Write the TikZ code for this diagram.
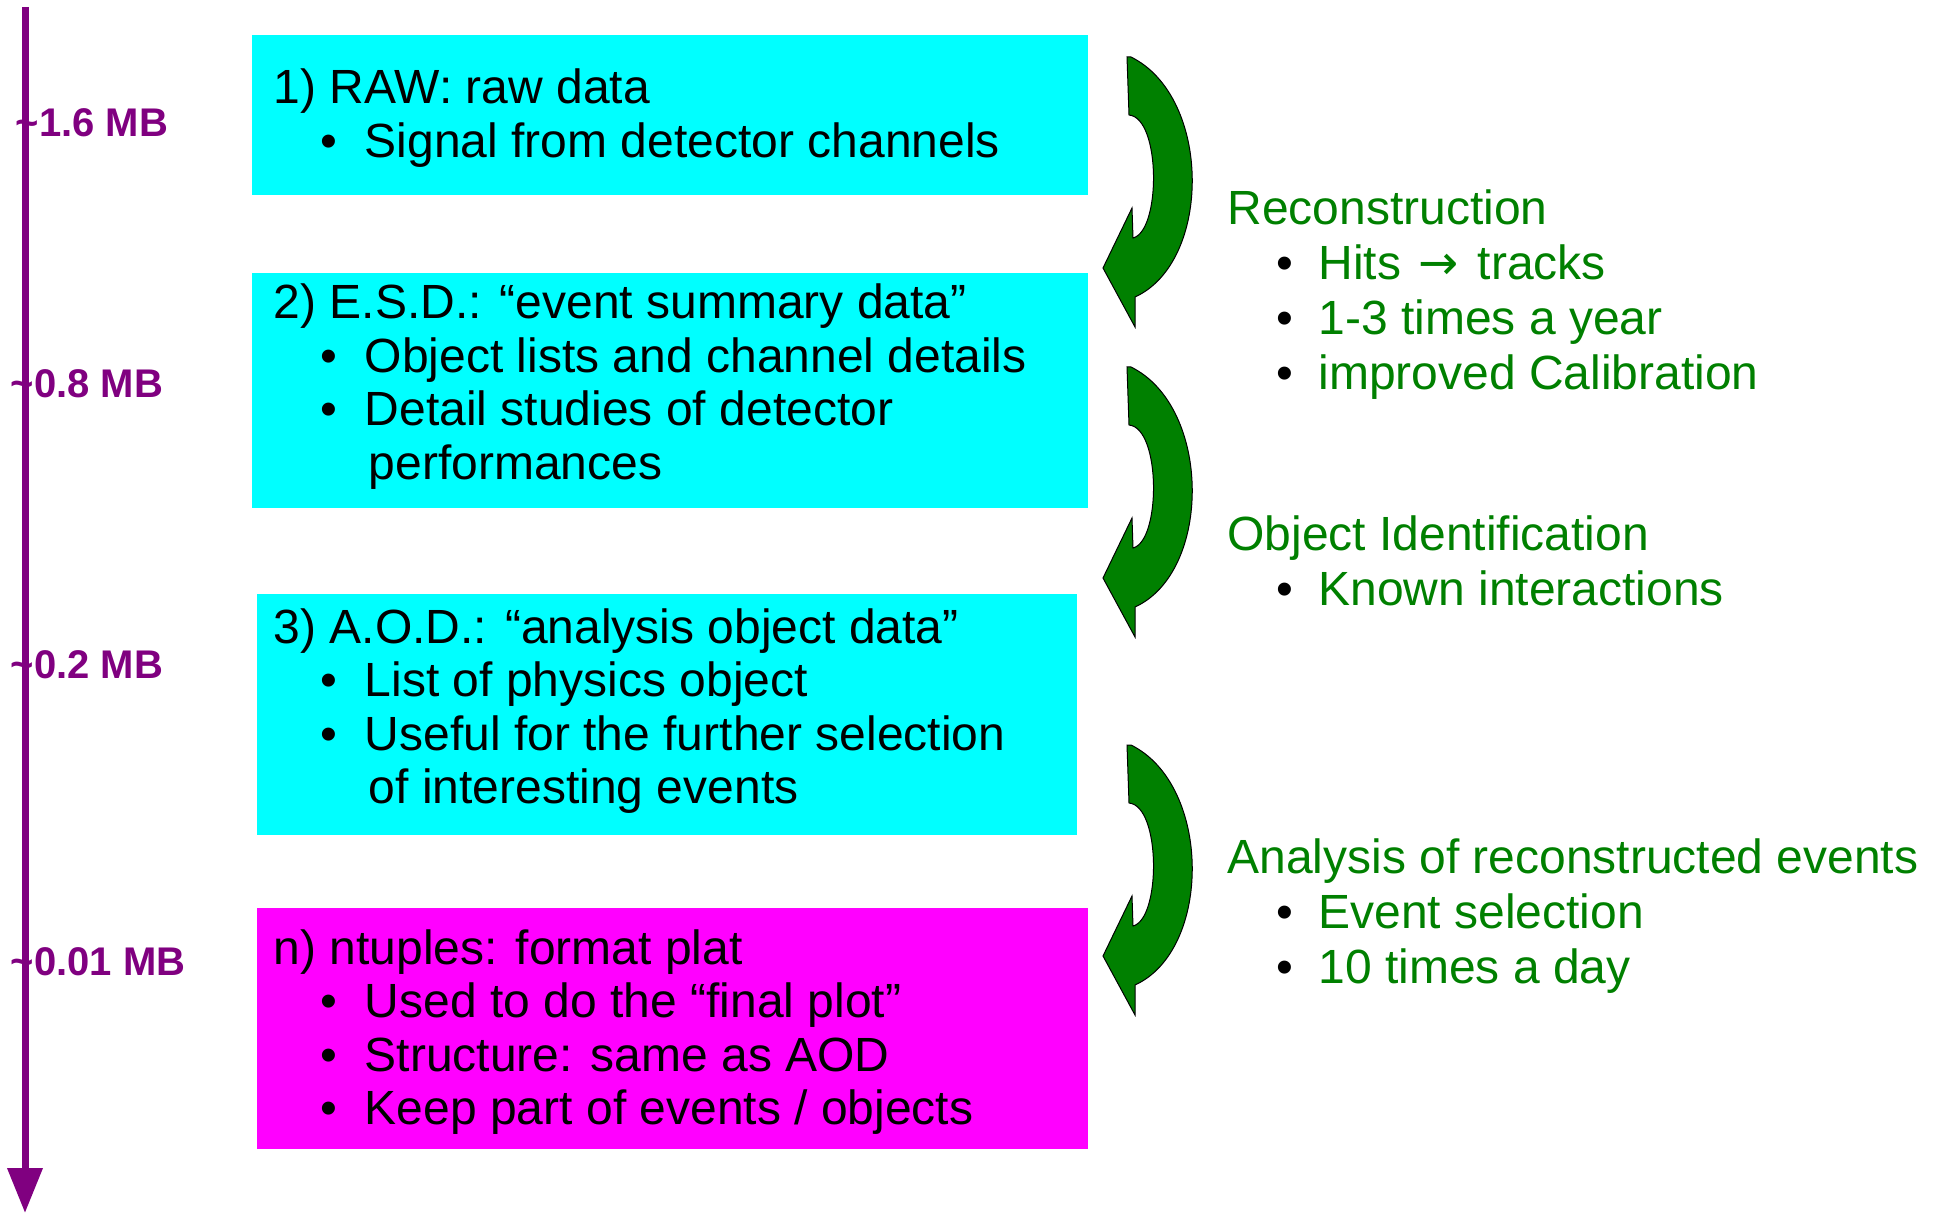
\documentclass[tikz,border=0pt]{standalone}
\usepackage{fontspec}
\setmainfont{Liberation Sans}
\newfontfamily\arrowfont{DejaVu Sans}
\usetikzlibrary{arrows.meta}
\definecolor{boxcyan}{RGB}{0,255,255}
\definecolor{boxmag}{RGB}{255,0,255}
\definecolor{txtgreen}{RGB}{0,128,0}
\definecolor{axpurple}{RGB}{128,0,128}
\newcommand{\myitem}[1]{\hspace*{23.3pt}\makebox[22.2pt][l]{\textbullet}#1}
\newcommand{\mycont}[1]{\hspace*{47.5pt}#1}
\newcommand{\gitem}[1]{\hspace*{24.3pt}\makebox[21.2pt][l]{\textcolor{black}{\textbullet}}#1}
\tikzset{
  curvarrow/.pic={
    \filldraw[fill=txtgreen, draw=black, line width=0.5pt]
      (0,0) -- (2,58) .. controls (34,61) and (34,174) .. (6,181)
      -- (5,151) -- (-24,211) -- (8,270) -- (8,240)
      .. controls (85,205) and (85,40) .. (4,0) -- cycle;
  }
}
\begin{document}
\begin{tikzpicture}[x=0.5pt,y=-0.5pt,
  databox/.style={draw=none, inner sep=0pt, anchor=north west},
  boxtext/.style={inner sep=0pt, anchor=base west, font=\fontsize{24}{26.75}\selectfont},
  greentext/.style={inner sep=0pt, anchor=base west, text=txtgreen, font=\fontsize{24}{27.5}\selectfont},
  sizelabel/.style={inner sep=0pt, anchor=base west, text=axpurple, font=\fontsize{20}{24}\selectfont\bfseries},
  axisline/.style={draw=axpurple, line width=3.5pt, -{Triangle[width=17pt,length=22.5pt]}}
]
\useasboundingbox (0,0) rectangle (1935,1214);

% axis
\coordinate (axtop) at (25,7);
\coordinate (axend) at (25,1213);
\draw[axisline] (axtop) -- (axend);
\node[sizelabel] (mb1) at (15.5,137) {\textasciitilde1.6 MB};
\node[sizelabel] (mb2) at (10.5,398) {\textasciitilde0.8 MB};
\node[sizelabel] (mb3) at (10.5,678) {\textasciitilde0.2 MB};
\node[sizelabel] (mb4) at (10.5,975) {\textasciitilde0.01 MB};

% boxes
\node[databox, fill=boxcyan, minimum width=418pt, minimum height=80pt] (raw) at (252,35) {};
\node[databox, fill=boxcyan, minimum width=418pt, minimum height=117.5pt] (esd) at (252,273) {};
\node[databox, fill=boxcyan, minimum width=410pt, minimum height=120.5pt] (aod) at (257,594) {};
\node[databox, fill=boxmag, minimum width=415.5pt, minimum height=120.5pt] (ntup) at (257,908) {};

\node[boxtext] (rawtxt) at (273.5,104) {\begin{tabular}[t]{@{}l@{}}
1) RAW: raw data\\
\myitem{Signal from detector channels}
\end{tabular}};
\node[boxtext] (esdtxt) at (273.5,319) {\begin{tabular}[t]{@{}l@{}}
2) E.S.D.: “event summary data”\\
\myitem{Object lists and channel details}\\
\myitem{Detail studies of detector}\\
\mycont{performances}
\end{tabular}};
\node[boxtext] (aodtxt) at (273.5,643) {\begin{tabular}[t]{@{}l@{}}
3) A.O.D.: “analysis object data”\\
\myitem{List of physics object}\\
\myitem{Useful for the further selection}\\
\mycont{of interesting events}
\end{tabular}};
\node[boxtext] (ntuptxt) at (273.5,964) {\begin{tabular}[t]{@{}l@{}}
n) ntuples: format plat\\
\myitem{Used to do the “final plot”}\\
\myitem{Structure: same as AOD}\\
\myitem{Keep part of events / objects}
\end{tabular}};

% curved arrows
\pic at (1127,57) {curvarrow};
\pic at (1127,367) {curvarrow};
\pic at (1127,745) {curvarrow};

% green descriptions
\node[greentext] (recon) at (1227,225) {\begin{tabular}[t]{@{}l@{}}
Reconstruction\\
\gitem{Hits\hspace{2pt} {\arrowfont→}\hspace{3pt} tracks}\\
\gitem{1-3 times a year}\\
\gitem{improved Calibration}
\end{tabular}};
\node[greentext] (objid) at (1227,551) {\begin{tabular}[t]{@{}l@{}}
Object Identification\\
\gitem{Known interactions}
\end{tabular}};
\node[greentext] (anal) at (1227,873) {\begin{tabular}[t]{@{}l@{}}
Analysis of reconstructed events\\
\gitem{Event selection}\\
\gitem{10 times a day}
\end{tabular}};
\end{tikzpicture}
\end{document}
